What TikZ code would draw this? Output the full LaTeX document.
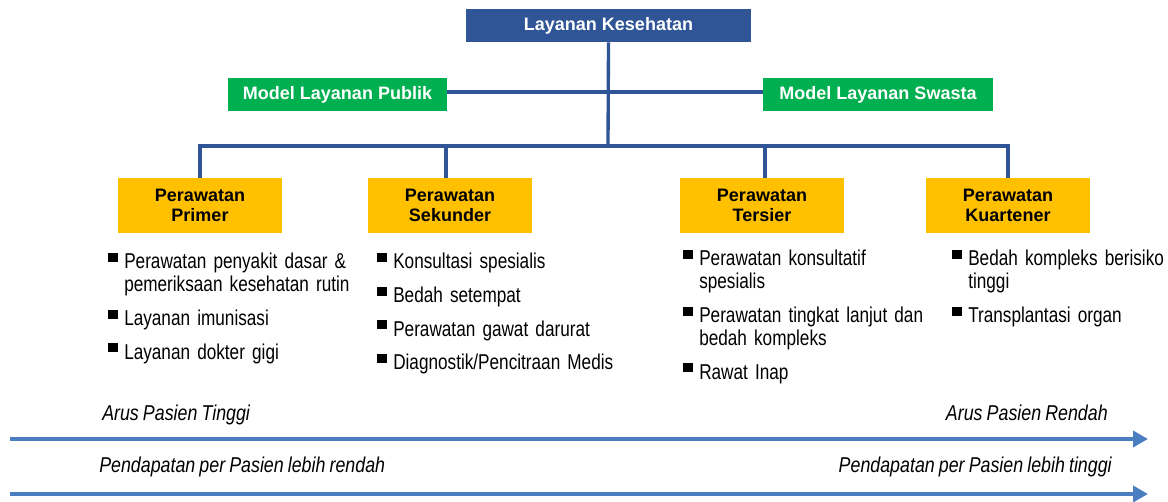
\documentclass[tikz,border=0pt]{standalone}
\usepackage{fontspec}
\setmainfont{Liberation Sans}
\newfontfamily\narrowfont[FakeStretch=0.80, WordSpace=0.81]{Liberation Sans}
\newfontfamily\flowfont[FakeStretch=0.83, WordSpace=0.83]{Liberation Sans}
\usepackage{xcolor}
\usepackage{tikz}
\usetikzlibrary{arrows.meta}
\definecolor{navy}{RGB}{47,85,151}
\definecolor{leafgreen}{RGB}{0,176,80}
\definecolor{gold}{RGB}{255,192,0}
\definecolor{flowblue}{RGB}{74,126,193}
\newcommand{\sqitem}{\leavevmode\llap{\rule[5pt]{7pt}{7pt}\hspace{5pt}}}
\tikzset{
  topbox/.style={
    rectangle, fill=navy, text=white, inner sep=0pt,
    minimum width=213.75pt, minimum height=24.75pt,
    font=\bfseries\fontsize{13.5}{15}\selectfont
  },
  modelbox/.style={
    rectangle, fill=leafgreen, text=white, inner sep=0pt,
    minimum height=24.75pt, font=\bfseries\fontsize{13.5}{15}\selectfont
  },
  carebox/.style={
    rectangle, fill=gold, align=center, inner sep=0pt,
    minimum width=123pt, minimum height=41.25pt,
    font=\bfseries\fontsize{13.5}{15}\selectfont
  },
  itemlist/.style={
    anchor=base west, inner sep=0pt, text width=200pt, align=left,
    font=\narrowfont\fontsize{16.1}{17.25}\selectfont
  },
  link/.style={draw=navy, line width=2.5pt},
  flow/.style={draw=flowblue, line width=3pt, -{Triangle[length=11.25pt, width=12pt]}},
  flowlabel/.style={inner sep=0pt, font=\flowfont\itshape\fontsize{16.1}{17.25}\selectfont},
}

\begin{document}
\begin{tikzpicture}[x=0.75pt, y=-0.75pt]
  \useasboundingbox (0,0) rectangle (1168,502);

  \node[topbox] (layanan) at (608.5,25.5) {Layanan Kesehatan};
  \node[modelbox, minimum width=164.25pt] (publik) at (337.5,94.5) {Model Layanan Publik};
  \node[modelbox, minimum width=172.5pt] (swasta) at (878,94.5) {Model Layanan Swasta};

  \node[carebox] (primer) at (200,205.5) {Perawatan\\Primer};
  \node[carebox] (sekunder) at (450,205.5) {Perawatan\\Sekunder};
  \node[carebox] (tersier) at (762,205.5) {Perawatan\\Tersier};
  \node[carebox] (kuartener) at (1008,205.5) {Perawatan\\Kuartener};

  \coordinate (bus) at (608,146);
  \draw[link] ([yshift=1.9pt]publik.east) -- ([yshift=1.9pt]swasta.west);
  \draw[link] (layanan.south) -- (bus);
  \draw[link] (primer.north) |- (bus) -| (kuartener.north);
  \draw[link] (sekunder.north) ++(-4,0) -- ++(0,-32);
  \draw[link] (tersier.north) ++(3,0) -- ++(0,-32);

  \node[itemlist] (primerlist) at (124,269) {\sqitem Perawatan penyakit dasar \&\\
    pemeriksaan kesehatan rutin\\[7.9pt]
    \sqitem Layanan imunisasi\\[7.9pt]
    \sqitem Layanan dokter gigi};
  \node[itemlist] (sekunderlist) at (393,269) {\sqitem Konsultasi spesialis\\[7.9pt]
    \sqitem Bedah setempat\\[7.9pt]
    \sqitem Perawatan gawat darurat\\[7.9pt]
    \sqitem Diagnostik/Pencitraan Medis};
  \node[itemlist] (tersierlist) at (699,266) {\sqitem Perawatan konsultatif\\
    spesialis\\[7.9pt]
    \sqitem Perawatan tingkat lanjut dan\\
    bedah kompleks\\[7.9pt]
    \sqitem Rawat Inap};
  \node[itemlist] (kuartenerlist) at (968,266) {\sqitem Bedah kompleks berisiko\\
    tinggi\\[7.9pt]
    \sqitem Transplantasi organ};

  \coordinate (arusstart) at (10,439);
  \coordinate (arusend) at (1148,439);
  \coordinate (pendstart) at (10,494);
  \coordinate (pendend) at (1148,494);
  \draw[flow] (arusstart) -- (arusend);
  \draw[flow] (pendstart) -- (pendend);

  \node[flowlabel, anchor=base west] (arustinggi) at (102,421) {Arus Pasien Tinggi};
  \node[flowlabel, anchor=base east] (arusrendah) at (1108,421) {Arus Pasien Rendah};
  \node[flowlabel, anchor=base west] (pendrendah) at (99,472) {Pendapatan per Pasien lebih rendah};
  \node[flowlabel, anchor=base east] (pendtinggi) at (1112,472) {Pendapatan per Pasien lebih tinggi};
\end{tikzpicture}
\end{document}
